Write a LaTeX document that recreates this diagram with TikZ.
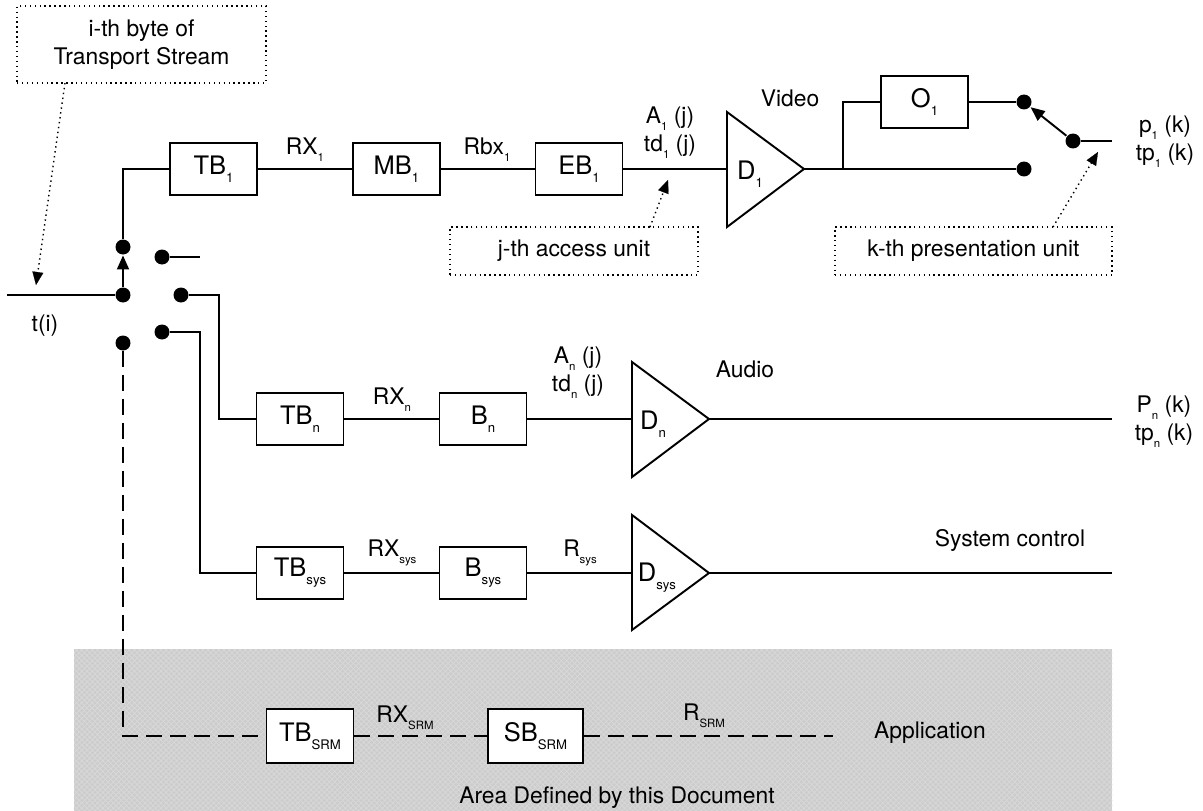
\documentclass[tikz,border=0pt]{standalone}
\usepackage{fontspec}
\setmainfont{TeX Gyre Heros}
\usetikzlibrary{arrows.meta,patterns}
\newcommand{\sbx}[1]{\raisebox{-0.6ex}{\fontsize{7.5}{7.5}\selectfont #1}}
\newcommand{\sbl}[1]{\raisebox{-0.6ex}{\fontsize{6.5}{6.5}\selectfont #1}}
\begin{document}
\begin{tikzpicture}[x=0.02cm,y=-0.02cm, line width=1.1pt,
  blk/.style={draw, fill=white, minimum width=1.74cm, minimum height=1.04cm, inner sep=0pt, font=\fontsize{14.5}{16}\selectfont},
  lbl/.style={inner sep=0pt, font=\fontsize{13}{16}\selectfont, align=center},
  note/.style={draw, dotted, line width=0.8pt, inner sep=0pt, font=\fontsize{13}{16}\selectfont, align=center},
  dotn/.style={circle, fill=black, inner sep=0pt, minimum size=0.3cm},
  ann/.style={dotted, line width=0.8pt, -{Triangle[length=0.26cm,width=0.22cm,line width=0.1pt]}},
  swa/.style={-{Triangle[length=0.28cm,width=0.24cm]}},
  dsh/.style={dash pattern=on 0.32cm off 0.16cm},
]
\useasboundingbox (0,0) rectangle (1203,811);
% shaded area
\path[fill=black!20] (74,649) rectangle (1112,811);
\path[pattern=crosshatch, pattern color=white!85!black] (74,649) rectangle (1112,811);

% annotation boxes
\node[note, minimum width=4.98cm, minimum height=1.54cm] (ith) at (141.5,44.5) {i-th byte of\\Transport Stream};
\node[note, minimum width=4.96cm, minimum height=0.96cm] (jth) at (574,251) {j-th access unit};
\node[note, minimum width=5.54cm, minimum height=0.96cm] (kth) at (973.5,251) {k-th presentation unit};

% input switch
\node[dotn] (s0) at (123,295) {};
\node[dotn] (s1) at (123,247) {};
\node[dotn] (s2) at (162,257) {};
\node[dotn] (s3) at (181,295) {};
\node[dotn] (s4) at (162,332) {};
\node[dotn] (s5) at (123,343) {};
\coordinate (tin) at (7,295);
\coordinate (s2e) at (200,257);
\draw (tin) -- (s0);
\draw[swa] (s0) -- (s1);
\node[lbl] (ti) at (45,326) {t(i)};
\coordinate (ithA) at (65,83);
\coordinate (ithB) at (36,285);
\draw[ann] (ithA) -- (ithB);

% row 1 (video)
\node[blk] (TB1) at (213.5,169) {TB\sbx{1}};
\node[blk] (MB1) at (396.5,169) {MB\sbx{1}};
\node[blk] (EB1) at (579,169) {EB\sbx{1}};
\draw (s1) |- (TB1.west);
\draw (s2) -- (s2e);
\draw (TB1) -- (MB1);
\draw (MB1) -- (EB1);
\node[lbl] (rx1) at (305,150) {RX\sbl{1}};
\node[lbl] (rbx1) at (487,150) {Rbx\sbl{1}};
\node[lbl] (a1) at (670,133) {A\sbl{1} (j)\\td\sbl{1} (j)};
\coordinate (D1in) at (727,169);
\coordinate (D1tip) at (804,169);
\draw (727,112) -- (D1tip) -- (727,227) -- cycle;
\node[inner sep=0pt, font=\fontsize{14.5}{16}\selectfont] (D1) at (750,174) {D\sbx{1}};
\node[lbl] (video) at (790,98) {Video};
\draw (EB1) -- (D1in);
\coordinate (jA) at (650,227);
\coordinate (jB) at (668,180);
\draw[ann] (jA) -- (jB);
\node[blk] (O1) at (924.5,102) {O\sbx{1}};
\node[dotn] (dU) at (1024,102) {};
\node[dotn] (dL) at (1024,169) {};
\node[dotn] (dP) at (1073,141) {};
\coordinate (br) at (843,169);
\coordinate (out1) at (1112,141);
\draw (D1tip) -- (dL);
\draw (br) |- (O1.west);
\draw (O1) -- (dU);
\draw[swa] (dP) -- (dU);
\draw (dP) -- (out1);
\node[lbl] (p1) at (1165,142) {p\sbl{1} (k)\\tp\sbl{1} (k)};
\coordinate (kA) at (1053,227);
\coordinate (kB) at (1098,152);
\draw[ann] (kA) -- (kB);

% row n (audio)
\node[blk] (TBn) at (300,419) {TB\sbx{n}};
\node[blk] (Bn) at (483,419) {B\sbx{n}};
\draw (s3) -| (219,350) |- (TBn.west);
\draw (TBn) -- (Bn);
\node[lbl] (rxn) at (392,400) {RX\sbl{n}};
\node[lbl] (an) at (578,373) {A\sbl{n} (j)\\td\sbl{n} (j)};
\coordinate (Dnin) at (632,419);
\coordinate (Dntip) at (709,419);
\draw (632,362) -- (Dntip) -- (632,477) -- cycle;
\node[inner sep=0pt, font=\fontsize{14.5}{16}\selectfont] (Dn) at (653,424) {D\sbx{n}};
\draw (Bn) -- (Dnin);
\node[lbl] (audio) at (745,369) {Audio};
\coordinate (outn) at (1112,419);
\draw (Dntip) -- (outn);
\node[lbl] (pn) at (1164,422) {P\sbl{n} (k)\\tp\sbl{n} (k)};

% row sys
\node[blk] (TBs) at (300,573) {TB\sbx{sys}};
\node[blk] (Bs) at (483,573) {B\sbx{sys}};
\draw (s4) -| (200,400) |- (TBs.west);
\draw (TBs) -- (Bs);
\node[lbl] (rxs) at (392,553) {RX\sbl{sys}};
\node[lbl] (rs) at (580,553) {R\sbl{sys}};
\coordinate (Dsin) at (632,573);
\coordinate (Dstip) at (709,573);
\draw (632,515) -- (Dstip) -- (632,630) -- cycle;
\node[inner sep=0pt, font=\fontsize{14.5}{16}\selectfont] (Ds) at (657,578) {D\sbx{sys}};
\draw (Bs) -- (Dsin);
\coordinate (outs) at (1112,573);
\draw (Dstip) -- (outs);
\node[lbl] (sysc) at (1010,540) {System control};

% SRM row
\node[blk, minimum height=1.08cm] (TBsrm) at (310,736) {TB\sbx{SRM}};
\node[blk, minimum width=1.9cm, minimum height=1.08cm] (SBsrm) at (535.5,736) {SB\sbx{SRM}};
\draw[dsh] (s5) |- (TBsrm.west);
\draw[dsh] (TBsrm) -- (SBsrm);
\coordinate (srmend) at (833,736);
\draw[dsh] (SBsrm) -- (srmend);
\node[lbl] (rxsrm) at (405,718) {RX\sbl{SRM}};
\node[lbl] (rsrm) at (704,716) {R\sbl{SRM}};
\node[lbl] (app) at (930,733) {Application};
\node[lbl] (area) at (617,798) {Area Defined by this Document};
\end{tikzpicture}
\end{document}
